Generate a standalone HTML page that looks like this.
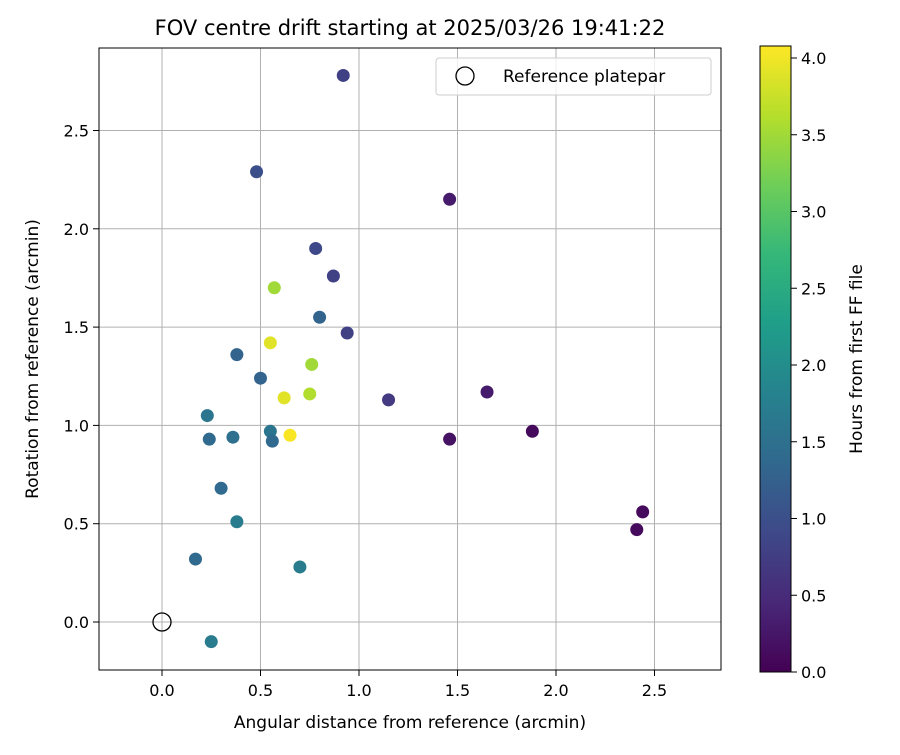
<!DOCTYPE html>
<html><head><meta charset="utf-8"><style>body{margin:0;background:#fff}svg text{font-family:"DejaVu Sans","Liberation Sans",sans-serif}</style></head>
<body>
<svg id="c" width="900" height="750" xmlns="http://www.w3.org/2000/svg">
<defs><linearGradient id="vir" x1="0" y1="1" x2="0" y2="0">
<stop offset="0" stop-color="#440154"/><stop offset="0.111" stop-color="#482878"/><stop offset="0.222" stop-color="#3e4989"/><stop offset="0.333" stop-color="#31688e"/><stop offset="0.444" stop-color="#26828e"/><stop offset="0.556" stop-color="#1f9e89"/><stop offset="0.667" stop-color="#35b779"/><stop offset="0.778" stop-color="#6ece58"/><stop offset="0.889" stop-color="#b5de2b"/><stop offset="1" stop-color="#fde725"/></linearGradient></defs>
<text x="410" y="35" font-size="21" text-anchor="middle">FOV centre drift starting at 2025/03/26 19:41:22</text>
<g id="grid"></g><g id="axes"></g><g id="pts"></g>
<rect x="99" y="48" width="622" height="622" fill="none" stroke="#000" stroke-width="1"/>
<text x="410" y="728" font-size="17" text-anchor="middle">Angular distance from reference (arcmin)</text>
<text transform="translate(38,359) rotate(-90)" font-size="17" text-anchor="middle">Rotation from reference (arcmin)</text>
<g>
<rect x="436" y="58" width="275" height="37" fill="#fff" fill-opacity="0.8" stroke="#ccc" rx="3"/>
<circle cx="465" cy="76" r="9" fill="none" stroke="#000" stroke-width="1.3"/>
<text x="503" y="82" font-size="17">Reference platepar</text></g>
<rect x="760" y="46" width="31" height="626" fill="url(#vir)" stroke="#000" stroke-width="1"/>
<g id="cb"></g>
<text transform="translate(862,359) rotate(-90)" font-size="17" text-anchor="middle">Hours from first FF file</text>
</svg>
<script>
const xs=[0.92,0.48,1.46,0.78,0.87,0.57,0.80,0.94,0.38,0.55,0.76,0.50,1.15,1.65,0.62,0.75,0.23,0.24,0.36,0.55,0.56,0.65,1.46,1.88,0.30,0.38,2.44,2.41,0.17,0.70,0.25];
const ys=[2.78,2.29,2.15,1.90,1.76,1.70,1.55,1.47,1.36,1.42,1.31,1.24,1.13,1.17,1.14,1.16,1.05,0.93,0.94,0.97,0.92,0.95,0.93,0.97,0.68,0.51,0.56,0.47,0.32,0.28,-0.10];
const hours=[0.8,1.0,0.3,0.9,0.8,3.5,1.3,0.8,1.3,3.9,3.5,1.3,0.7,0.3,3.9,3.6,1.6,1.4,1.5,1.6,1.4,4.05,0.2,0.1,1.4,1.7,0.1,0.1,1.4,1.7,1.7];
const xTicks=[0,0.5,1,1.5,2,2.5], yTicks=[0,0.5,1,1.5,2,2.5], cTicks=[0,0.5,1,1.5,2,2.5,3,3.5,4];
const X=v=>162+v*197, Y=v=>622-v*196.6, CB=v=>672-v*153.5, HMAX=4.08;
const vir=[[68,1,84],[72,40,120],[62,73,137],[49,104,142],[38,130,142],[31,158,137],[53,183,121],[110,206,88],[181,222,43],[253,231,37]];
function col(h){let t=Math.min(1,Math.max(0,h/HMAX))*(vir.length-1);let i=Math.min(vir.length-2,Math.floor(t)),f=t-i;const c=vir[i].map((a,k)=>Math.round(a+(vir[i+1][k]-a)*f));return`rgb(${c})`;}
const NS="http://www.w3.org/2000/svg";
function mk(p,tag,at){const e=document.createElementNS(NS,tag);for(const k in at)e.setAttribute(k,at[k]);document.getElementById(p).appendChild(e);return e;}
xTicks.forEach(v=>{const g=mk('grid','line',{x1:X(v),x2:X(v),y1:48,y2:670,stroke:'#b0b0b0','stroke-width':1});


mk('axes','line',{x1:X(v),x2:X(v),y1:670,y2:676,stroke:'#000'});
const t=mk('axes','text',{x:X(v),y:696,'font-size':16,'text-anchor':'middle'});t.textContent=v.toFixed(1);

});
yTicks.forEach(v=>{const g=mk('grid','line',{x1:99,x2:721,y1:Y(v),y2:Y(v),stroke:'#b0b0b0','stroke-width':1});


mk('axes','line',{x1:93,x2:99,y1:Y(v),y2:Y(v),stroke:'#000'});
const t=mk('axes','text',{x:89,y:Y(v)+6,'font-size':16,'text-anchor':'end'});t.textContent=v.toFixed(1);

});
cTicks.forEach(v=>{mk('cb','line',{x1:791,x2:797,y1:CB(v),y2:CB(v),stroke:'#000'});
const t=mk('cb','text',{x:801,y:CB(v)+6,'font-size':16});t.textContent=v.toFixed(1);

});
xs.forEach((x,i)=>{const c=mk('pts','circle',{cx:X(x),cy:Y(ys[i]),r:6.5,fill:col(hours[i])});

});
const r=mk('pts','circle',{cx:X(0),cy:Y(0),r:9,fill:'none',stroke:'#000','stroke-width':1.3});


</script>
</body></html>
